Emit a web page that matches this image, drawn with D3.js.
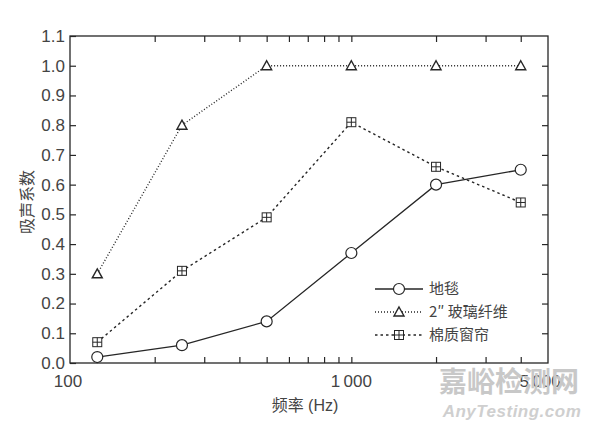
<!DOCTYPE html>
<html>
<head>
<meta charset="utf-8">
<script src="https://cdn.jsdelivr.net/npm/d3@7"></script>
<style>
  body { margin: 0; background: #fff; }
  svg text { font-family: 'Liberation Sans', Arial, sans-serif; }
  .cjk { font-family: 'Noto Sans CJK SC', sans-serif; }
</style>
</head>
<body>
<div id="chart"></div>
<script>
// ─── Data ───
var freqs = [125, 250, 500, 1000, 2000, 4000];
var carpet = [0.02, 0.06, 0.14, 0.37, 0.60, 0.65];
var glassFiber = [0.30, 0.80, 1.00, 1.00, 1.00, 1.00];
var curtain = [0.07, 0.31, 0.49, 0.81, 0.66, 0.54];
var seriesNames = ['地毯', '2″ 玻璃纤维', '棉质窗帘'];
var yTicks = [0, 0.1, 0.2, 0.3, 0.4, 0.5, 0.6, 0.7, 0.8, 0.9, 1.0, 1.1];
var xLabelTicks = [100, 1000, 5000];
var xMinorTicks = [200, 300, 400, 500, 600, 700, 800, 900, 2000, 3000, 4000];

var W = 600, H = 424;
var mLeft = 70, mRight = 548, mTop = 36, mBottom = 363;
var ink = '#262626', txt = '#444';

var svg = d3.select('#chart').append('svg').attr('width', W).attr('height', H);
var x = d3.scaleLog().domain([100, 5000]).range([mLeft, mRight]);
var y = d3.scaleLinear().domain([0, 1.1]).range([mBottom, mTop]);

// frame
svg.append('rect').attr('x', mLeft).attr('y', mTop).attr('width', mRight - mLeft).attr('height', mBottom - mTop)
  .attr('fill', 'none').attr('stroke', ink).attr('stroke-width', 1.3);

// y ticks, inward on both sides
var fmtY = d3.format('.1f');
svg.append('g').attr('transform', 'translate(' + mLeft + ',0)')
  .call(d3.axisLeft(y).tickValues(yTicks).tickSize(-6).tickPadding(5).tickFormat(fmtY))
  .call(function(g) { g.select('.domain').remove(); });
svg.append('g').attr('transform', 'translate(' + mRight + ',0)')
  .call(d3.axisRight(y).tickValues(yTicks.slice(1, -1)).tickSize(-6).tickFormat(''))
  .call(function(g) { g.select('.domain').remove(); });

// x ticks, inward on bottom and top
var fmtX = function(d) { return d >= 1000 ? (d / 1000) + '\u2009000' : d; };
var allX = xLabelTicks.slice(1, 2).concat(xMinorTicks);
svg.append('g').attr('transform', 'translate(0,' + mBottom + ')')
  .call(d3.axisBottom(x).tickValues(allX).tickSize(-6).tickFormat(''))
  .call(function(g) { g.select('.domain').remove(); });
svg.append('g').attr('transform', 'translate(0,' + mTop + ')')
  .call(d3.axisTop(x).tickValues(allX).tickSize(-6).tickFormat(''))
  .call(function(g) { g.select('.domain').remove(); });
svg.selectAll('.tick line').attr('stroke', ink).attr('stroke-width', 1.2);
svg.selectAll('.tick text').attr('fill', txt).attr('font-size', '17px');

// x tick labels
xLabelTicks.forEach(function(v) {
  var xx = x(v);
  if (v === 100) xx = x(v) - 2;
  if (v === 5000) xx = x(v) - 8;
  svg.append('text').attr('x', xx).attr('y', 387).attr('text-anchor', 'middle')
    .attr('fill', txt).attr('font-size', '17px').text(fmtX(v));
});

// axis titles
svg.append('text').attr('class', 'cjk').attr('transform', 'translate(33,202) rotate(-90)')
  .attr('text-anchor', 'middle').attr('fill', txt).attr('font-size', '16px').text('吸声系数');
svg.append('text').attr('x', 305).attr('y', 411).attr('text-anchor', 'middle')
  .attr('fill', txt).attr('font-size', '16px')
  .html('<tspan class="cjk">频率</tspan> (Hz)');

// ─── Series ───
var series = [
  { name: seriesNames[0], values: carpet, dash: null, marker: 'circle' },
  { name: seriesNames[1], values: glassFiber, dash: '1,2', marker: 'triangle' },
  { name: seriesNames[2], values: curtain, dash: '2.5,3', marker: 'grid' }
];

function drawMarker(g, type, cx, cy) {
  if (type === 'circle') {
    g.append('circle').attr('cx', cx).attr('cy', cy).attr('r', 5.5)
      .attr('fill', '#fff').attr('stroke', ink).attr('stroke-width', 1.2);
  } else if (type === 'triangle') {
    g.append('path').attr('d', 'M' + cx + ',' + (cy - 5) + 'L' + (cx + 5) + ',' + (cy + 4) + 'L' + (cx - 5) + ',' + (cy + 4) + 'Z')
      .attr('fill', '#fff').attr('stroke', ink).attr('stroke-width', 1.4);
  } else {
    g.append('rect').attr('x', cx - 4.5).attr('y', cy - 4.5).attr('width', 9).attr('height', 9)
      .attr('fill', '#fff').attr('stroke', ink).attr('stroke-width', 1);
    g.append('path').attr('d', 'M' + (cx - 4.5) + ',' + cy + 'H' + (cx + 4.5) + 'M' + cx + ',' + (cy - 4.5) + 'V' + (cy + 4.5))
      .attr('stroke', ink).attr('stroke-width', 1);
  }
}

var line = d3.line().x(function(d) { return x(d[0]); }).y(function(d) { return y(d[1]); });
series.forEach(function(s) {
  var pts = freqs.map(function(f, i) { return [f, s.values[i]]; });
  svg.append('path').datum(pts).attr('d', line).attr('fill', 'none')
    .attr('stroke', ink).attr('stroke-width', s.dash ? 1.4 : 1.3)
    .attr('stroke-dasharray', s.dash);
  var g = svg.append('g');
  pts.forEach(function(p) { drawMarker(g, s.marker, x(p[0]), y(p[1])); });
});

// ─── Legend ───
var legY = [289, 312, 335];
series.forEach(function(s, i) {
  var ly = legY[i];
  svg.append('line').attr('x1', 375).attr('x2', 423).attr('y1', ly).attr('y2', ly)
    .attr('stroke', ink).attr('stroke-width', 1.3).attr('stroke-dasharray', s.dash);
  drawMarker(svg.append('g'), s.marker, 399, ly);
  svg.append('text').attr('class', 'cjk').attr('x', 429).attr('y', ly + 5)
    .attr('fill', txt).attr('font-size', '15px').text(s.name);
});

// watermark
svg.append('text').attr('class', 'cjk').attr('x', 509).attr('y', 392).attr('text-anchor', 'middle')
  .attr('fill', '#c8c8c8').attr('font-size', '28px').attr('font-weight', '700').text('嘉峪检测网');
svg.append('text').attr('x', 512).attr('y', 417).attr('text-anchor', 'middle')
  .attr('fill', '#cfcfcf').attr('font-size', '17px').attr('font-weight', '700').attr('font-style', 'italic')
  .attr('letter-spacing', '0.5px').text('AnyTesting.com');
</script>
</body>
</html>
